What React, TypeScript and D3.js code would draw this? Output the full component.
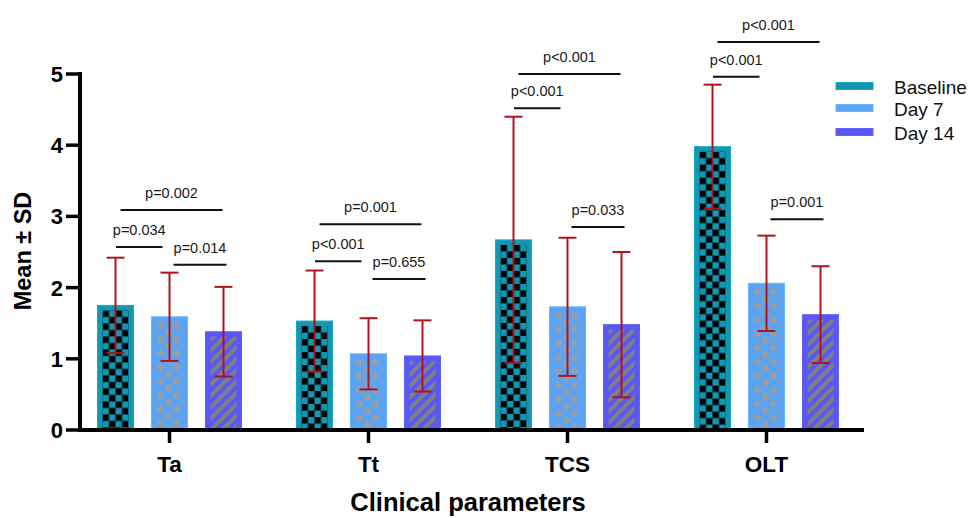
import { useEffect, useRef } from 'react';
import * as d3 from 'd3';

const categories = ['Ta', 'Tt', 'TCS', 'OLT'];
const seriesNames = ['Baseline', 'Day 7', 'Day 14'];

// mean and SD per category
const baselineMean = [1.75, 1.53, 2.67, 3.98];
const baselineSD = [0.67, 0.71, 1.73, 0.87];
const day7Mean = [1.59, 1.07, 1.73, 2.06];
const day7SD = [0.62, 0.5, 0.97, 0.67];
const day14Mean = [1.38, 1.04, 1.48, 1.62];
const day14SD = [0.63, 0.5, 1.02, 0.68];

// comparisons: [series a, series b]
const compPairs = [[0, 1], [1, 2], [0, 2]];
const pLabels = [
  ['p=0.034', 'p=0.014', 'p=0.002'],
  ['p<0.001', 'p=0.655', 'p=0.001'],
  ['p<0.001', 'p=0.033', 'p<0.001'],
  ['p<0.001', 'p=0.001', 'p<0.001'],
];
// bracket heights in data units
const bracketLevels = [
  [2.57, 2.32, 3.09],
  [2.37, 2.12, 2.89],
  [4.52, 2.85, 5.0],
  [4.96, 2.96, 5.45],
];
const yTicks = [0, 1, 2, 3, 4, 5];

const FONT = '"Liberation Sans", Arial, sans-serif';
const COLORS = ['#1497b1', '#5aa4f6', '#5957f6'];
const ERR = '#b0131b';

export default function App() {
  const svgRef = useRef<SVGSVGElement | null>(null);

  useEffect(() => {
    const svg = d3.select(svgRef.current);
    svg.selectAll('*').remove();

    const means = [baselineMean, day7Mean, day14Mean];
    const sds = [baselineSD, day7SD, day14SD];

    const x = d3.scaleBand<string>().domain(categories).range([70, 866]);
    const xs = d3.scaleBand<string>().domain(seriesNames).range([-81, 81])
      .paddingInner(1 / 3).paddingOuter(1 / 6);
    const y = d3.scaleLinear().domain([0, 5]).range([430, 74]);

    const cx = (ci: number, si: number) =>
      x(categories[ci])! + x.bandwidth() / 2 + xs(seriesNames[si])! + xs.bandwidth() / 2;

    const defs = svg.append('defs');
    const bw = xs.bandwidth();
    const inset = 5;

    // ── bars ────────────────────────────────────────
    categories.forEach((cat, ci) => {
      seriesNames.forEach((s, si) => {
        const v = means[si][ci];
        const bx = cx(ci, si) - bw / 2;
        const by = y(v);
        const h = y(0) - by;
        const ix = bx + inset, iy = by + inset;
        const pid = `pat-${ci}-${si}`;
        const pat = defs.append('pattern').attr('id', pid)
          .attr('patternUnits', 'userSpaceOnUse');
        if (si === 0) {
          pat.attr('x', ix).attr('y', iy).attr('width', 13).attr('height', 13);
          pat.append('rect').attr('x', 0).attr('y', 0).attr('width', 6.5).attr('height', 6.5).attr('fill', '#000');
          pat.append('rect').attr('x', 6.5).attr('y', 6.5).attr('width', 6.5).attr('height', 6.5).attr('fill', '#000');
        } else if (si === 1) {
          // diamond lattice in a 16x14 tile, offset rows, wrapped at the edges
          const a = 4.2;
          const dia = (px: number, py: number) =>
            `M${px},${py - a}L${px + a},${py}L${px},${py + a}L${px - a},${py}Z`;
          pat.attr('x', ix).attr('y', iy).attr('width', 16).attr('height', 14);
          pat.append('path')
            .attr('d', [dia(4, 3.5), dia(12, 10.5), dia(20, 3.5), dia(4, 17.5), dia(-4, 10.5), dia(12, -3.5)].join(' '))
            .attr('fill', '#9d9d9d');
        } else {
          pat.attr('x', ix).attr('y', iy).attr('width', 8).attr('height', 8)
            .attr('patternTransform', `rotate(45 ${ix} ${iy})`);
          pat.append('rect').attr('x', 0).attr('y', 0).attr('width', 4).attr('height', 8).attr('fill', '#808080');
        }

        svg.append('rect')
          .attr('x', bx).attr('y', by).attr('width', bw).attr('height', h)
          .attr('fill', COLORS[si])
          .attr('stroke', d3.color(COLORS[si])!.brighter(0.3).toString())
          .attr('stroke-width', 1);
        svg.append('rect')
          .attr('x', ix).attr('y', iy).attr('width', bw - inset * 2).attr('height', Math.max(0, h - inset))
          .attr('fill', `url(#${pid})`);
      });
    });

    // ── error bars ──────────────────────────────────
    categories.forEach((cat, ci) => {
      seriesNames.forEach((s, si) => {
        const c = cx(ci, si);
        const lo = y(means[si][ci] - sds[si][ci]);
        const hi = y(means[si][ci] + sds[si][ci]);
        const g = svg.append('g').attr('stroke', ERR).attr('stroke-width', 2);
        g.append('line').attr('x1', c).attr('x2', c).attr('y1', lo).attr('y2', hi);
        g.append('line').attr('x1', c - 9).attr('x2', c + 9).attr('y1', hi).attr('y2', hi);
        g.append('line').attr('x1', c - 9).attr('x2', c + 9).attr('y1', lo).attr('y2', lo);
      });
    });

    // ── significance brackets ───────────────────────
    const pairOffsets = [[0.5, -7], [4, 3], [5, -1]];
    categories.forEach((cat, ci) => {
      compPairs.forEach(([a, b], k) => {
        const x1 = cx(ci, a) + pairOffsets[k][0];
        const x2 = cx(ci, b) + pairOffsets[k][1];
        const ly = y(bracketLevels[ci][k]);
        svg.append('line').attr('x1', x1).attr('x2', x2).attr('y1', ly).attr('y2', ly)
          .attr('stroke', '#111').attr('stroke-width', 2);
        svg.append('text').attr('x', (x1 + x2) / 2).attr('y', ly - 12)
          .attr('text-anchor', 'middle').attr('font-family', FONT).attr('font-size', 14.5)
          .attr('fill', '#1a1a1a').text(pLabels[ci][k]);
      });
    });

    // ── axes ────────────────────────────────────────
    const yAxis = svg.append('g').attr('transform', 'translate(80,0)');
    yAxis.append('line').attr('x1', 0).attr('x2', 0).attr('y1', y(5) - 2).attr('y2', y(0) + 2)
      .attr('stroke', '#000').attr('stroke-width', 4);
    yTicks.forEach((t) => {
      yAxis.append('line').attr('x1', -14).attr('x2', 0).attr('y1', y(t)).attr('y2', y(t))
        .attr('stroke', '#000').attr('stroke-width', 3.5);
      yAxis.append('text').attr('x', -17).attr('y', y(t)).attr('dy', '0.36em')
        .attr('text-anchor', 'end').attr('font-family', FONT).attr('font-weight', 700)
        .attr('font-size', 22).attr('fill', '#000').text(t);
    });

    const xAxis = svg.append('g');
    xAxis.append('line').attr('x1', 78).attr('x2', 864).attr('y1', y(0)).attr('y2', y(0))
      .attr('stroke', '#000').attr('stroke-width', 4);
    categories.forEach((cat) => {
      const c = x(cat)! + x.bandwidth() / 2;
      xAxis.append('line').attr('x1', c).attr('x2', c).attr('y1', y(0)).attr('y2', y(0) + 13)
        .attr('stroke', '#000').attr('stroke-width', 3.5);
      xAxis.append('text').attr('x', c).attr('y', 472).attr('text-anchor', 'middle')
        .attr('font-family', FONT).attr('font-weight', 700).attr('font-size', 22.5)
        .attr('fill', '#000').text(cat);
    });

    svg.append('text').attr('x', 468).attr('y', 511).attr('text-anchor', 'middle')
      .attr('font-family', FONT).attr('font-weight', 700).attr('font-size', 25.5)
      .attr('fill', '#000').text('Clinical parameters');

    svg.append('text').attr('transform', 'translate(31,251) rotate(-90)')
      .attr('text-anchor', 'middle').attr('font-family', FONT).attr('font-weight', 700)
      .attr('font-size', 23.5).attr('fill', '#000').text('Mean ± SD');

    // ── legend ──────────────────────────────────────
    const legendY = [86, 108, 132];
    seriesNames.forEach((s, si) => {
      svg.append('rect').attr('x', 836).attr('y', legendY[si] - 3.5).attr('width', 37).attr('height', 7)
        .attr('fill', COLORS[si])
        .attr('stroke', d3.color(COLORS[si])!.brighter(0.3).toString()).attr('stroke-width', 1);
      svg.append('text').attr('x', 894).attr('y', legendY[si] + 7.5)
        .attr('font-family', FONT).attr('font-size', 19).attr('fill', '#111').text(s);
    });
  }, []);

  return (
    <svg
      ref={svgRef}
      width={970}
      height={518}
      style={{ position: 'absolute', left: 0, top: 0, background: '#fff' }}
    />
  );
}
